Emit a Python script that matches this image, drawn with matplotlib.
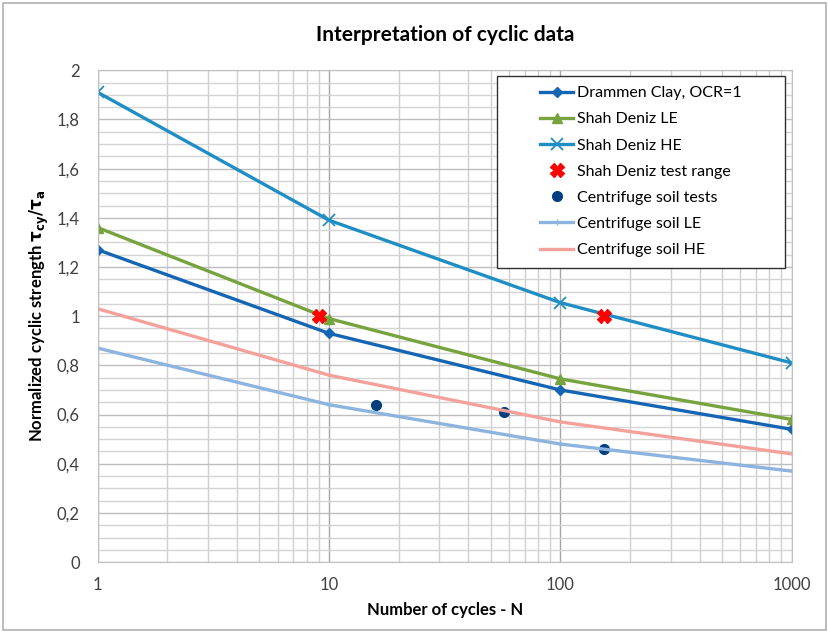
import matplotlib
matplotlib.use("Agg")
import matplotlib.pyplot as plt
from matplotlib.patches import Rectangle
from matplotlib.ticker import FixedLocator, FuncFormatter, MultipleLocator

plt.rcParams['font.family'] = ['Lato', 'DejaVu Sans']

# data
cycles = [1, 10, 100, 1000]
drammen = [1.27, 0.93, 0.70, 0.54]
sd_le = [1.36, 0.99, 0.745, 0.58]
sd_he = [1.91, 1.39, 1.055, 0.81]
cf_le = [0.87, 0.64, 0.48, 0.37]
cf_he = [1.03, 0.76, 0.57, 0.44]

test_range_n = [9, 155]
test_range_v = [1.0, 1.0]

cf_tests_n = [16, 57, 155]
cf_tests_v = [0.64, 0.61, 0.46]

fig = plt.figure(figsize=(8.29, 6.33), dpi=100)
ax = fig.add_axes([0.118, 0.112, 0.837, 0.777])

# outer chart border
fig.patches.append(Rectangle((0.004, 0.004), 0.992, 0.992, transform=fig.transFigure,
                             fill=False, edgecolor='#b0b0b0', linewidth=1.2))

ax.plot(cycles, drammen, color='#1565b5', lw=2.4, marker='D', ms=5, label='Drammen Clay, OCR=1')
ax.plot(cycles, sd_le, color='#77a33f', lw=2.4, marker='^', ms=7, label='Shah Deniz LE')
ax.plot(cycles, sd_he, color='#1f8ec4', lw=2.4, marker='x', ms=8, mew=1.3, label='Shah Deniz HE')
ax.plot(test_range_n, test_range_v, ls='none', color='#ff0000', marker='X', ms=10, label='Shah Deniz test range')
ax.plot(cf_tests_n, cf_tests_v, ls='none', color='#003f7f', marker='o', ms=7, label='Centrifuge soil tests')
ax.plot(cycles, cf_le, color='#8db3df', lw=2.4, marker='+', ms=4, label='Centrifuge soil LE')
ax.plot(cycles, cf_he, color='#f4a19b', lw=2.4, label='Centrifuge soil HE')

ax.set_xscale('log')
ax.set_xlim(1, 1000)
ax.set_ylim(0, 2)

ax.yaxis.set_major_locator(MultipleLocator(0.2))
ax.yaxis.set_minor_locator(MultipleLocator(0.05))
ax.xaxis.set_major_locator(FixedLocator([1, 10, 100, 1000]))
ax.xaxis.set_minor_locator(FixedLocator([m * d for d in (1, 10, 100) for m in range(2, 10)]))
ax.xaxis.set_major_formatter(FuncFormatter(lambda v, p: '%d' % v))
ax.xaxis.set_minor_formatter(FuncFormatter(lambda v, p: ''))
ax.yaxis.set_major_formatter(FuncFormatter(lambda v, p: ('%g' % round(v, 1)).replace('.', ',')))

ax.grid(which='major', axis='x', color='#a6a6a6', lw=1.0)
ax.grid(which='minor', axis='x', color='#cfcfcf', lw=1.0)
ax.grid(which='major', axis='y', color='#bdbdbd', lw=1.0)
ax.grid(which='minor', axis='y', color='#d4d4d4', lw=1.0)
ax.set_axisbelow(True)

for s in ax.spines.values():
    s.set_color('#c0c0c0')
ax.tick_params(which='both', length=0, labelsize=12, colors='#404040')
ax.tick_params(axis='x', pad=11)
ax.tick_params(axis='y', pad=13)

ax.set_title('Interpretation of cyclic data', fontsize=15, fontweight='bold', pad=21)
ax.set_xlabel('Number of cycles - N', fontsize=12, fontweight='bold', labelpad=6)
ax.set_ylabel(r'Normalized cyclic strength $\mathbf{\tau_{cy}/\tau_a}$', fontsize=12,
              fontweight='bold', labelpad=4)

# legend box drawn separately (Excel style, wide left padding)
ax.add_patch(Rectangle((0.575, 0.598), 0.416, 0.390, transform=ax.transAxes,
                       facecolor='white', edgecolor='#303030', lw=1.0, zorder=5))
leg = ax.legend(loc='upper left', bbox_to_anchor=(0.637, 0.968), fontsize=11.5,
                frameon=False, handlelength=2.1, labelspacing=0.75, borderpad=0,
                handletextpad=0.25, borderaxespad=0)
leg.set_zorder(6)

fig.savefig('out.png', dpi=100)
